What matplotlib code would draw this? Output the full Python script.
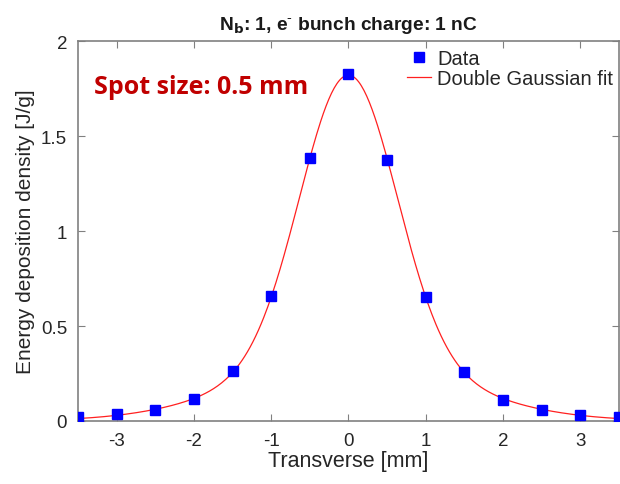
import numpy as np
import matplotlib
matplotlib.use('Agg')
from matplotlib import pyplot as plt

# Transverse scan of the energy deposition
transverse = [-3.5, -3.0, -2.5, -2.0, -1.5, -1.0, -0.5, 0.0, 0.5, 1.0, 1.5, 2.0, 2.5, 3.0, 3.5]
deposition = [0.02, 0.035, 0.057, 0.116, 0.262, 0.656, 1.384, 1.826, 1.374, 0.652, 0.258, 0.11, 0.057, 0.033, 0.02]

x = np.array(transverse)
y = np.array(deposition)

# Double Gaussian fit: scan both widths, solve amplitudes by least squares
best = None
for s1 in np.arange(0.3, 1.0, 0.01):
    for s2 in np.arange(1.0, 2.5, 0.02):
        A = np.column_stack([np.exp(-x**2 / (2 * s1**2)), np.exp(-x**2 / (2 * s2**2))])
        amp, res, _, _ = np.linalg.lstsq(A, y, rcond=None)
        err = np.sum((A @ amp - y)**2)
        if best is None or err < best[0]:
            best = (err, s1, s2, amp)
_, s1, s2, amp = best

xf = np.linspace(-3.5, 3.5, 400)
yf = amp[0] * np.exp(-xf**2 / (2 * s1**2)) + amp[1] * np.exp(-xf**2 / (2 * s2**2))

plt.rcParams['font.family'] = ['Liberation Sans', 'DejaVu Sans']
plt.rcParams['axes.unicode_minus'] = False
grey = '#262626'

fig = plt.figure(figsize=(6.2, 4.85), dpi=100)
ax = fig.add_axes([0.126, 0.130, 0.872, 0.783])

ax.plot(x, y, 's', color='#0000ff', markersize=6.5, label='Data', zorder=3)
ax.plot(xf, yf, '-', color='#ff2020', linewidth=0.9, label='Double Gaussian fit', zorder=2)

ax.set_xlim(-3.5, 3.5)
ax.set_ylim(0, 2)
ax.set_xticks([-3, -2, -1, 0, 1, 2, 3])
ax.set_yticks([0, 0.5, 1, 1.5, 2])
ax.set_yticklabels(['0', '0.5', '1', '1.5', '2'])
ax.tick_params(direction='in', top=True, right=True, labelsize=13.5,
               colors='#808080', labelcolor=grey, length=5, pad=8)
for sp in ax.spines.values():
    sp.set_color('#808080')
    sp.set_linewidth(1.2)

ax.set_xlabel('Transverse [mm]', fontsize=15.5, color=grey, labelpad=1)
ax.set_ylabel('Energy deposition density [J/g]', fontsize=15, color=grey, labelpad=4)
ax.set_title('N$_\\mathbf{b}$: 1, e$^\\text{-}$ bunch charge: 1 nC',
             fontsize=13.8, fontweight='bold', color='#1a1a1a', pad=9)

ax.text(-3.3, 1.76, 'Spot size: 0.5 mm', color='#c00000', fontsize=18,
        fontweight='bold', family=['Open Sans', 'DejaVu Sans'], va='center')

leg = ax.legend(loc='upper right', frameon=False, fontsize=14.5, handlelength=1.2,
                handletextpad=0.3, borderaxespad=0.0, labelspacing=0.05,
                bbox_to_anchor=(1.005, 1.0))
for t in leg.get_texts():
    t.set_color(grey)

plt.savefig('out.png', dpi=100)
